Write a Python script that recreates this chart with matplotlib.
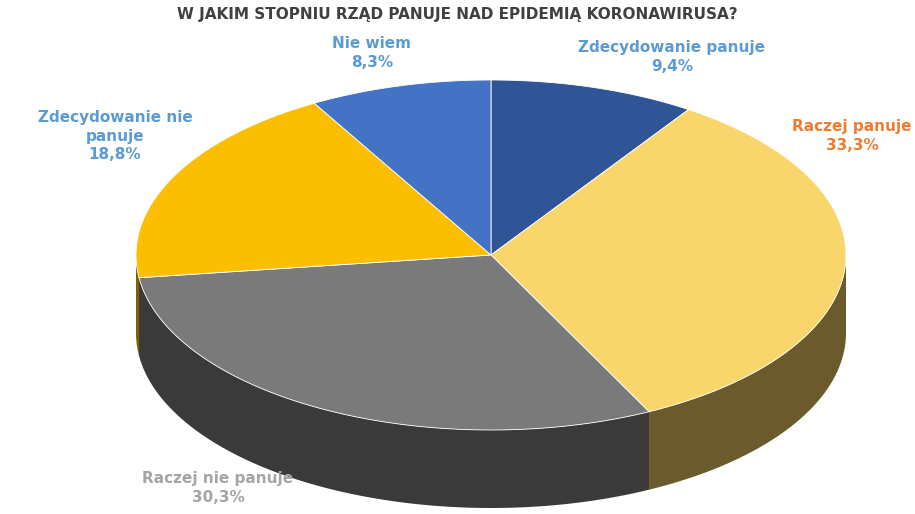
import numpy as np
import matplotlib.pyplot as plt
from matplotlib.patches import Polygon

TITLE = 'W JAKIM STOPNIU RZĄD PANUJE NAD EPIDEMIĄ KORONAWIRUSA?'
labels = ['Zdecydowanie panuje', 'Raczej panuje', 'Raczej nie panuje',
          'Zdecydowanie nie\npanuje', 'Nie wiem']
values = [9.4, 33.3, 30.3, 18.8, 8.3]
top_colors = ['#2F5597', '#F9D66B', '#7A7A7A', '#FBBE00', '#4472C4']
side_colors = ['#1F3864', '#6B5A2C', '#3A3A3A', '#7F6000', '#2F5597']
label_colors = ['#5B9BD5', '#ED7D31', '#A5A5A5', '#5B9BD5', '#5B9BD5']
label_pos = [(672, 57), (852, 136), (218, 488), (115, 136), (372, 53)]

cx, cy, rx, ry, depth = 491, 255, 355, 175, 78

fig = plt.figure(figsize=(9.15, 5.14), dpi=100)
ax = fig.add_axes([0, 0, 1, 1])
ax.set_xlim(0, 915)
ax.set_ylim(514, 0)
ax.axis('off')

def pt(t, dy=0):
    return cx + rx * np.cos(t), cy - ry * np.sin(t) + dy

fracs = np.array(values) / sum(values)
starts = np.pi / 2 - 2 * np.pi * np.concatenate([[0], np.cumsum(fracs)[:-1]])
ends = starts - 2 * np.pi * fracs

# sides (front half only)
for s, e, sc in zip(starts, ends, side_colors):
    lo, hi = e, s
    for k in (-1, 0, 1):
        a, b = max(lo, np.pi + 2 * np.pi * k), min(hi, 2 * np.pi + 2 * np.pi * k)
        if b > a:
            t = np.linspace(a, b, 80)
            xs, ys = pt(t)
            xb, yb = pt(t[::-1], depth)
            poly = np.column_stack([np.concatenate([xs, xb]), np.concatenate([ys, yb])])
            ax.add_patch(Polygon(poly, closed=True, facecolor=sc, edgecolor='none'))

# top faces
for s, e, tc in zip(starts, ends, top_colors):
    t = np.linspace(s, e, 120)
    xs, ys = pt(t)
    poly = np.column_stack([np.concatenate([[cx], xs]), np.concatenate([[cy], ys])])
    ax.add_patch(Polygon(poly, closed=True, facecolor=tc, edgecolor='white', linewidth=0.6))

for lab, v, c, (x, y) in zip(labels, values, label_colors, label_pos):
    ax.text(x, y, f'{lab}\n{v:.1f}%'.replace('.', ','), color=c, fontsize=11,
            fontweight='bold', ha='center', va='center', linespacing=1.3)

ax.text(457, 15, TITLE, color='#404040', fontsize=11, fontweight='bold',
        ha='center', va='center')

fig.savefig('out.png', dpi=100, facecolor='white')
